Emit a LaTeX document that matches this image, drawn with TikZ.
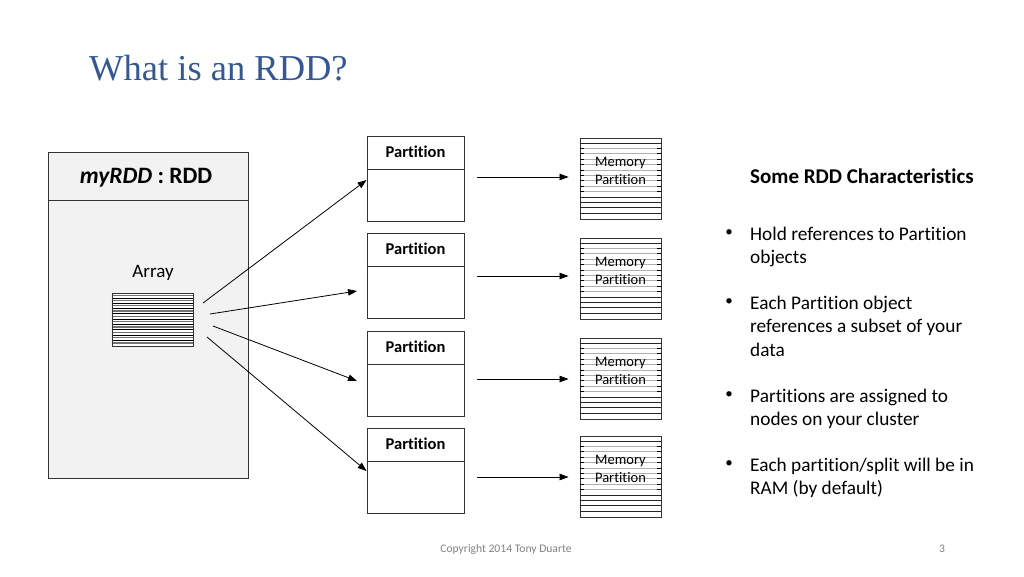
\documentclass[tikz,border=0pt]{standalone}
\usepackage{fontspec}
\setmainfont{Carlito}[RawFeature={-liga}]
\newfontfamily\titlefont{Liberation Serif}
\usetikzlibrary{arrows.meta,calc}

\definecolor{titleblue}{RGB}{54,88,145}
\definecolor{panelgray}{RGB}{242,242,242}
\definecolor{stripegray}{RGB}{175,175,175}
\definecolor{footgray}{RGB}{130,130,130}

\tikzset{
  box/.style={draw=black!80, line width=0.9pt, rectangle, inner sep=0pt},
  partbox/.style={box, fill=white, minimum width=97pt, minimum height=85pt},
  membox/.style={box, fill=white, minimum width=81pt, minimum height=81pt},
  arr/.style={line width=0.8pt, -{Triangle[length=9pt,width=6.5pt]}},
  parttext/.style={font=\fontsize{16.5}{18}\selectfont\bfseries, inner sep=0pt},
  memtext/.style={font=\fontsize{14.5}{18}\selectfont, align=center, inner sep=0pt},
}

% partition box with a header band
\newcommand{\partitionbox}[3]{%
  \node[partbox] (#1) at (#2,#3) {};
  \draw[line width=0.9pt, black!80] ($(#1.north west)+(0,34)$) -- ($(#1.north east)+(0,34)$);
  \node[parttext] (#1t) at ($(#1.north)+(0,16)$) {Partition};
}

% striped memory block
\newcommand{\memorybox}[3]{%
  \node[membox] (#1) at (#2,#3) {};
  \foreach \k in {2,...,10}{
    \draw[stripegray, line width=0.8pt] ($(#1.north west)+(0,\k*5.4)$) -- ($(#1.north east)+(0,\k*5.4)$);
    \draw[black, line width=0.8pt] ($(#1.north west)+(0,\k*5.4)$) -- ++(4,0);
    \draw[black, line width=0.8pt] ($(#1.north east)+(0,\k*5.4)$) -- ++(-4,0);
  }
  \foreach \k in {1,11,12,13,14}{
    \draw[black!85, line width=0.8pt] ($(#1.north west)+(0,\k*5.4)$) -- ($(#1.north east)+(0,\k*5.4)$);
  }
  \node[memtext] (#1t) at ($(#1.north)+(0,33)$) {Memory\\Partition};
}

\begin{document}
\begin{tikzpicture}[x=1pt,y=-1pt]
\useasboundingbox[fill=white] (0,0) rectangle (1024,576);

% title
\node[anchor=west, inner sep=0pt, text=titleblue, font=\titlefont\fontsize{36.5}{40}\selectfont] (title) at (89,68) {What is an RDD?};

% RDD object
\node[box, fill=panelgray, minimum width=200pt, minimum height=326pt] (rdd) at (148,315) {};
\draw[line width=0.9pt, black!80] ($(rdd.north west)+(0,49)$) -- ($(rdd.north east)+(0,49)$);
\node[inner sep=0pt, font=\fontsize{23.5}{26}\selectfont\bfseries] (rddt) at (146,178) {\textit{myRDD} : RDD};
\node[inner sep=0pt, font=\fontsize{19}{22}\selectfont] (arrt) at (153,273) {Array};

% striped array
\node[box, fill=white, minimum width=81pt, minimum height=53pt] (array) at (152.5,319.5) {};
\foreach \k in {1,...,19}{
  \ifodd\k
    \draw[black!55, line width=1.3pt] ($(array.north west)+(0,\k*2.65)$) -- ($(array.north east)+(0,\k*2.65)$);
  \else
    \draw[black, line width=0.7pt] ($(array.north west)+(0,\k*2.65)$) -- ($(array.north east)+(0,\k*2.65)$);
  \fi
}
\node[box, minimum width=81pt, minimum height=53pt] (arrayframe) at (152.5,319.5) {};

% partitions
\partitionbox{p1}{415.5}{178.5}
\partitionbox{p2}{415.5}{275.5}
\partitionbox{p3}{415.5}{373.5}
\partitionbox{p4}{415.5}{470.5}

% memory partitions
\memorybox{m1}{620.5}{178.5}
\memorybox{m2}{620.5}{278.5}
\memorybox{m3}{620.5}{378.5}
\memorybox{m4}{620.5}{476.5}

% array -> partitions
\coordinate (a1) at (203,303);
\coordinate (a2) at (210,314);
\coordinate (a3) at (213,326);
\coordinate (a4) at (207,337);
\coordinate (e2) at (357,291);
\coordinate (e3) at (357,381);
\draw[arr] (a1) -- (p1.west |- 0,180);
\draw[arr] (a2) -- (e2);
\draw[arr] (a3) -- (e3);
\draw[arr] (a4) -- (p4.west |- 0,471);

% partitions -> memory
\coordinate (s1) at (477,177);
\coordinate (s2) at (477,276);
\coordinate (s3) at (477,379);
\coordinate (s4) at (477,477);
\draw[arr] (s1) -- ($(m1.west |- s1)+(-11,0)$);
\draw[arr] (s2) -- ($(m2.west |- s2)+(-11,0)$);
\draw[arr] (s3) -- ($(m3.west |- s3)+(-11,0)$);
\draw[arr] (s4) -- ($(m4.west |- s4)+(-11,0)$);

% characteristics
\node[anchor=west, inner sep=0pt, font=\fontsize{21}{24}\selectfont\bfseries] (head) at (750,176) {Some RDD Characteristics};
\foreach \y/\txt [count=\i] in {
  234/{Hold references to Partition\\objects},
  303/{Each Partition object\\references a subset of your\\data},
  396/{Partitions are assigned to\\nodes on your cluster},
  465/{Each partition/split will be in\\RAM (by default)}}{
  \node[anchor=north west, inner sep=0pt, font=\fontsize{19.3}{23.2}\selectfont, align=left] (b\i) at (750,\y-7) {\txt};
  \node[anchor=center, inner sep=0pt, font=\fontsize{15}{18}\selectfont] (d\i) at (729,\y-1) {•};
}

% footer
\node[inner sep=0pt, text=footgray, font=\fontsize{11.6}{13}\selectfont] (copy) at (506,549) {Copyright 2014 Tony Duarte};
\node[inner sep=0pt, text=footgray, font=\fontsize{11.6}{13}\selectfont] (pg) at (942,549) {3};
\end{tikzpicture}
\end{document}
